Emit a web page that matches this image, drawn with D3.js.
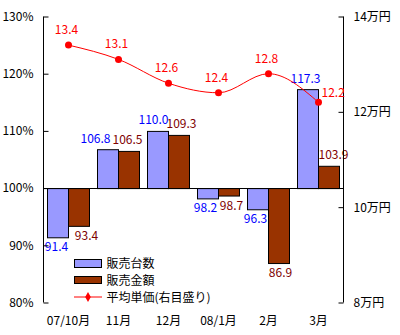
<!DOCTYPE html>
<html><head><meta charset="utf-8">
<script src="https://cdn.jsdelivr.net/npm/d3@7"></script>
<style>
html,body{margin:0;padding:0;background:#fff;}
text{font-family:"Noto Sans CJK JP","DejaVu Sans",sans-serif;font-size:12px;}
</style></head>
<body><svg id="c" width="400" height="335"></svg>
<script>
const categories = ["07/10月","11月","12月","08/1月","2月","3月"];
const unitsSold = [91.4,106.8,110.0,98.2,96.3,117.3];
const salesAmount = [93.4,106.5,109.3,98.7,86.9,103.9];
const avgPrice = [13.4,13.1,12.6,12.4,12.8,12.2];
const leftTicks = [80,90,100,110,120,130];
const rightTicks = [8,10,12,14];
const seriesNames = ["販売台数","販売金額","平均単価(右目盛り)"];
// small horizontal label nudges (layout only)
const unitsLabelDx = [-1,-12,-4,-2,-2,-2];
const amountLabelDx = [8,-1,3,3,2,5];

const svg = d3.select("#c");
const pLeft = 43, pRight = 343, pTop = 16.5, pBottom = 302.5;
const x = d3.scaleBand().domain(categories).range([pLeft,pRight]).paddingInner(0.16).paddingOuter(0.08);
const xs = d3.scaleBand().domain([0,1]).range([0,x.bandwidth()]);
const y = d3.scaleLinear().domain([80,130]).range([pBottom,pTop]);
const y2 = d3.scaleLinear().domain([8,14]).range([pBottom,pTop]);
const base = y(100);
const blue = "#9999ff", brown = "#993300";

// bars
[unitsSold, salesAmount].forEach((arr,si)=>{
  svg.append("g").selectAll("rect").data(arr).join("rect")
    .attr("x",(d,i)=>x(categories[i])+xs(si)+0.5)
    .attr("y",d=>Math.min(y(d),base)+0.5)
    .attr("width",xs.bandwidth())
    .attr("height",d=>Math.abs(y(d)-base))
    .attr("fill",si===0?blue:brown)
    .attr("stroke","#000").attr("stroke-width",1);
});

// baseline at 100%
svg.append("line").attr("x1",pLeft).attr("x2",pRight).attr("y1",Math.round(base)+0.5).attr("y2",Math.round(base)+0.5).attr("stroke","#000");

// bar labels
[[unitsSold,"#0000ff",unitsLabelDx],[salesAmount,"#800000",amountLabelDx]].forEach(([arr,col,dx],si)=>{
  svg.append("g").selectAll("text").data(arr).join("text")
    .attr("x",(d,i)=>x(categories[i])+xs(si)+xs.bandwidth()/2+dx[i])
    .attr("y",d=>d>=100? y(d)-6.5 : y(d)+14)
    .attr("text-anchor","middle").attr("fill",col)
    .text(d=>d.toFixed(1));
});

// axes
const axL = svg.append("g").attr("transform",`translate(${pLeft+0.5},0)`)
  .call(d3.axisLeft(y).tickValues(leftTicks).tickSize(-5).tickPadding(10).tickFormat(d=>d+"%"));
const axR = svg.append("g").attr("transform",`translate(${pRight+0.5},0)`)
  .call(d3.axisRight(y2).tickValues(rightTicks).tickSize(-5).tickPadding(10).tickFormat(d=>d+"万円"));
[axL,axR].forEach(a=>{
  a.select(".domain").attr("stroke","#000").attr("d",`M0,${pTop}V${pBottom}`);
  a.selectAll("line").attr("stroke","#000");
  a.selectAll("text").attr("fill","#000").style("font-size","12px").style("font-family",'"Noto Sans CJK JP",sans-serif');
});

// category labels
svg.append("g").selectAll("text").data(categories).join("text")
  .attr("x",d=>x(d)+x.bandwidth()/2+0.5).attr("y",325)
  .attr("text-anchor","middle").attr("fill","#000").text(d=>d);

// line
const cx = (i)=>x(categories[i])+x.bandwidth()/2+0.5;
const line = d3.line().x((d,i)=>cx(i)).y(d=>y2(d)).curve(d3.curveMonotoneX);
svg.append("path").datum(avgPrice).attr("d",line).attr("fill","none").attr("stroke","#ff0000").attr("stroke-width",1);
svg.append("g").selectAll("circle").data(avgPrice).join("circle")
  .attr("cx",(d,i)=>cx(i)).attr("cy",d=>y2(d)).attr("r",3.5).attr("fill","#ff0000");
svg.append("g").selectAll("text").data(avgPrice).join("text")
  .attr("x",(d,i)=> i===avgPrice.length-1 ? cx(i)+3 : cx(i)-2)
  .attr("y",(d,i)=> i===avgPrice.length-1 ? y2(d)-5 : y2(d)-11)
  .attr("text-anchor",(d,i)=> i===avgPrice.length-1 ? "start":"middle")
  .attr("fill","#ff0000").text(d=>d.toFixed(1));

// legend
const lg = svg.append("g");
const lx = 74, rowY = [263.5, 280.5, 297];
lg.append("rect").attr("x",lx+0.5).attr("y",259.5).attr("width",27).attr("height",8).attr("fill",blue).attr("stroke","#000");
lg.append("rect").attr("x",lx+0.5).attr("y",276.5).attr("width",27).attr("height",7).attr("fill",brown).attr("stroke","#000");
lg.append("line").attr("x1",lx).attr("x2",lx+28).attr("y1",rowY[2]).attr("y2",rowY[2]).attr("stroke","#ff0000");
lg.append("path").attr("d",d3.symbol(d3.symbolDiamond,28)()).attr("transform",`translate(${lx+14},${rowY[2]})`).attr("fill","#ff0000");
seriesNames.forEach((s,i)=>{
  lg.append("text").attr("x",106.5).attr("y",rowY[i]+4.5).attr("fill","#000").text(s);
});
</script></body></html>
